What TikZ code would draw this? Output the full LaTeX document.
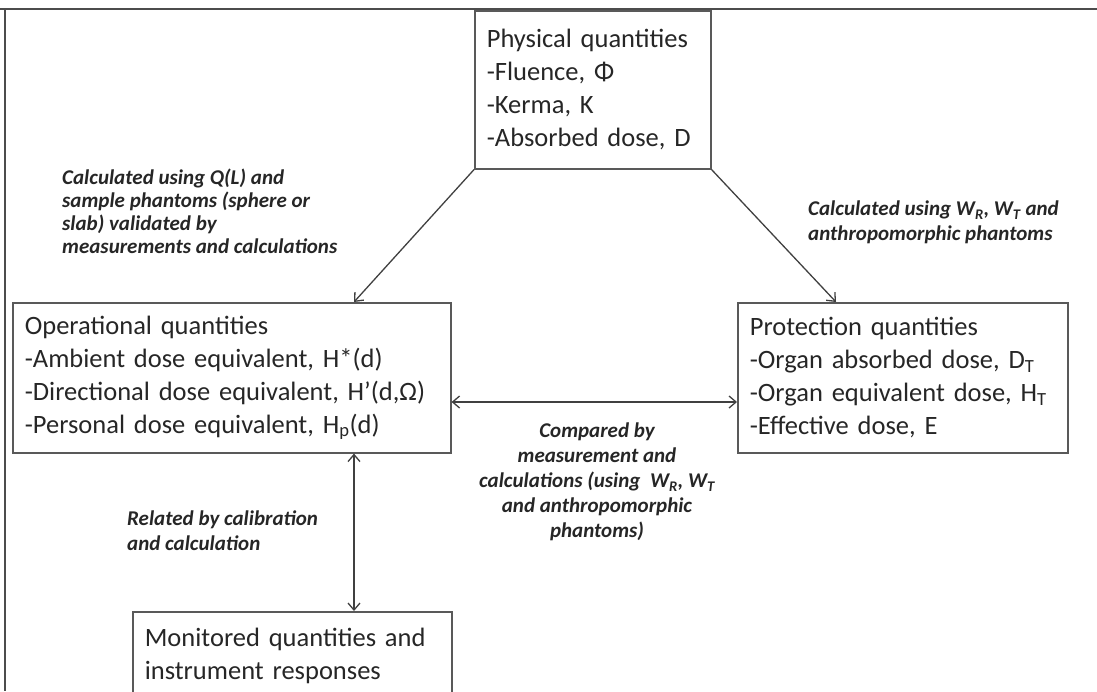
\documentclass[tikz,border=0pt]{standalone}
\usepackage{fontspec}
\setmainfont{Carlito}
\usetikzlibrary{arrows.meta}

\begin{document}
\begin{tikzpicture}[x=1pt, y=-1pt,
  >={Straight Barb[length=7pt,width=12pt]},
  qbox/.style={draw=black!65, line width=1.6pt, align=left, anchor=north west,
    inner xsep=12pt, text=black!85, font=\fontsize{26.5}{33}\selectfont},
  qnote/.style={align=left, anchor=north west, inner sep=0pt, text=black!85,
    font=\fontsize{21}{25}\selectfont\bfseries\itshape},
  link/.style={draw=black!75, line width=1.3pt}]
\useasboundingbox (0,0) rectangle (1097,691);
\clip (0,0) rectangle (1097,691);

% Outer frame
\draw[black!70, line width=2.5pt] (0,9) -- (1097,9);
\draw[black!70, line width=2.2pt] (5,9) -- (5,691);

% Quantities
\node[qbox, text width=212pt, minimum height=158pt] (phys) at (474,10)
  {Physical quantities\\-Fluence, Φ\\-Kerma, K\\-Absorbed dose, D};
\node[qbox, text width=414pt, minimum height=150pt] (op) at (12,302)
  {Operational quantities\\-Ambient dose equivalent, H*(d)\\-Directional dose equivalent, H’(d,Ω)\\-Personal dose equivalent, H\textsubscript{p}(d)};
\node[qbox, text width=306pt, minimum height=150pt] (prot) at (737,302)
  {Protection quantities\\-Organ absorbed dose, D\textsubscript{T}\\-Organ equivalent dose, H\textsubscript{T}\\-Effective dose, E};
\node[qbox, text width=295pt, minimum height=88pt] (mon) at (132,611)
  {Monitored quantities and\\instrument responses};

% Notes
\node[qnote, font=\fontsize{21}{23}\selectfont\bfseries\itshape] (noteop) at (62,169)
  {Calculated using Q(L) and\\sample phantoms (sphere or\\slab) validated by\\measurements and calculations};
\node[qnote] (noteprot) at (808,201)
  {Calculated using W\textsubscript{R}, W\textsubscript{T} and\\anthropomorphic phantoms};
\node[qnote, align=center, anchor=north] (notecmp) at (597,423)
  {Compared by\\measurement and\\calculations (using~ W\textsubscript{R}, W\textsubscript{T}\\and anthropomorphic\\phantoms)};
\node[qnote] (notemon) at (127,511)
  {Related by calibration\\and calculation};

% Arrows
\coordinate (vx) at (354,0);
\coordinate (px) at (836,0);
\coordinate (hy) at (0,402);
\draw[link, ->] (phys.south west) -- (op.north -| vx);
\draw[link, ->] (phys.south east) -- (prot.north -| px);
\draw[link, <->] (op.east |- hy) -- (prot.west |- hy);
\draw[link, <->] (op.south -| vx) -- (mon.north -| vx);

\end{tikzpicture}
\end{document}
